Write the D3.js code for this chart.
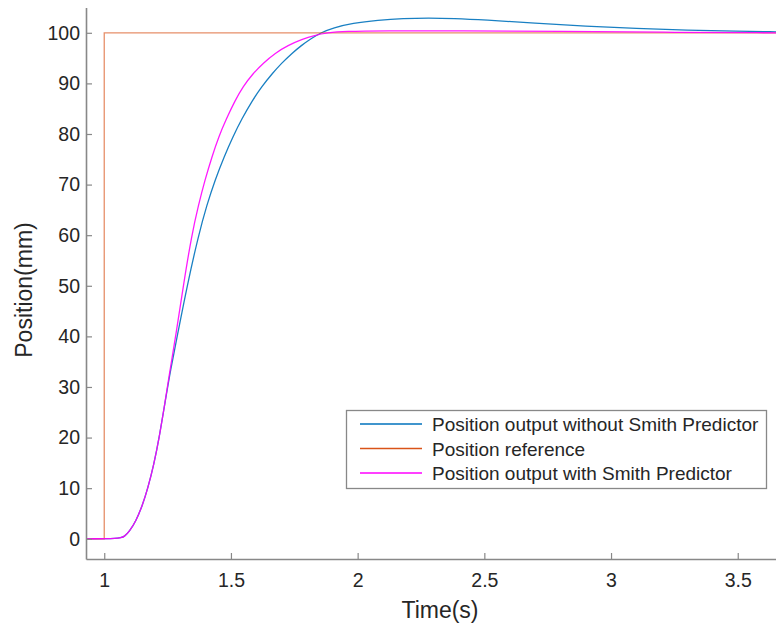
<!DOCTYPE html>
<html>
<head>
<meta charset="utf-8">
<script src="https://cdn.jsdelivr.net/npm/d3@7/dist/d3.min.js"></script>
<style>
  body { margin: 0; background: #fff; }
  text { font-family: "Liberation Sans", Arial, sans-serif; }
</style>
</head>
<body>
<div id="chart"></div>
<script>
// Step response data
const timeNoSmith = [0.928, 1.058, 1.08, 1.1, 1.125, 1.15, 1.172, 1.195, 1.217, 1.24, 1.262, 1.288,
  1.327, 1.372, 1.405, 1.438, 1.473, 1.508, 1.543, 1.583, 1.622, 1.664, 1.70, 1.742, 1.778, 1.814, 1.854,
  1.904, 1.98, 2.08, 2.18, 2.28, 2.38, 2.5, 2.7, 2.9, 3.1, 3.3, 3.5, 3.651];
const posNoSmith = [0, 0, 0.4, 1.5, 3.5, 6.5, 10, 14.5, 20, 27, 33.5, 40,
  50, 60, 66, 71, 75.5, 79.5, 83, 86.5, 89.4, 92, 94, 96, 97.5, 98.8, 100,
  101, 101.9, 102.5, 102.85, 102.95, 102.85, 102.55, 101.9, 101.3, 100.85, 100.5, 100.3, 100.2];

const timeSmith = [0.928, 1.058, 1.08, 1.1, 1.125, 1.15, 1.172, 1.195, 1.217, 1.24, 1.26, 1.282,
  1.312, 1.345, 1.372, 1.398, 1.425, 1.452, 1.482, 1.515, 1.548, 1.588, 1.627, 1.675, 1.725, 1.78, 1.83,
  1.88, 1.95, 2.1, 2.4, 2.8, 3.2, 3.651];
const posSmith = [0, 0, 0.4, 1.5, 3.5, 6.5, 10, 14.5, 20, 27, 33.5, 40,
  50, 60, 66, 71, 75.5, 79.5, 83, 86.5, 89.4, 92, 94, 96, 97.5, 98.7, 99.5,
  100, 100.3, 100.4, 100.4, 100.3, 100.1, 100];

const timeRef = [0.928, 1, 1, 3.651];
const posRef = [0, 0, 100, 100];

const xTicks = [1, 1.5, 2, 2.5, 3, 3.5];
const yTicks = [0, 10, 20, 30, 40, 50, 60, 70, 80, 90, 100];

const seriesNames = [
  'Position output without Smith Predictor',
  'Position reference',
  'Position output with Smith Predictor'
];
const seriesColors = ['#0072BD', '#D95319', '#FF00FF'];

const W = 776, H = 626;
const plot = { left: 86, right: 776, top: 7.5, bottom: 559 };

const svg = d3.select('#chart').append('svg')
  .attr('width', W).attr('height', H);

const x = d3.scaleLinear().domain([0.928, 3.651]).range([plot.left, plot.right]);
const y = d3.scaleLinear().domain([-4, 105]).range([plot.bottom, plot.top]);

svg.append('clipPath').attr('id', 'clip')
  .append('rect')
  .attr('x', plot.left).attr('y', plot.top)
  .attr('width', plot.right - plot.left).attr('height', plot.bottom - plot.top);

// Lines
const series = [
  { t: timeNoSmith, v: posNoSmith },
  { t: timeRef, v: posRef },
  { t: timeSmith, v: posSmith }
];

// basis spline smooths out the small reading errors in the points
const smooth = d3.line().x(d => x(d[0])).y(d => y(d[1])).curve(d3.curveBasis);
const straight = d3.line().x(d => x(d[0])).y(d => y(d[1]));

const lines = svg.append('g').attr('clip-path', 'url(#clip)');
series.forEach((s, i) => {
  const pts = s.t.map((t, k) => [t, s.v[k]]);
  lines.append('path')
    .attr('d', i === 1 ? straight(pts) : smooth(pts))
    .attr('fill', 'none')
    .attr('stroke', seriesColors[i])
    .attr('stroke-width', 1.3)
    .attr('stroke-opacity', i === 1 ? 0.65 : 0.9);
});

// Axes (MATLAB style: ticks inside)
const axisColor = '#888';
const textColor = '#262626';

const xAxis = svg.append('g')
  .attr('transform', `translate(0,${plot.bottom})`)
  .call(d3.axisBottom(x).tickValues(xTicks).tickFormat(d3.format('')).tickSizeInner(-6).tickSizeOuter(0).tickPadding(14.5));

const yAxis = svg.append('g')
  .attr('transform', `translate(${plot.left},0)`)
  .call(d3.axisLeft(y).tickValues(yTicks).tickSizeInner(-6).tickSizeOuter(0).tickPadding(6));

[xAxis, yAxis].forEach(a => {
  a.select('.domain').attr('stroke', axisColor).attr('stroke-width', 1.6);
  a.selectAll('.tick line').attr('stroke', axisColor).attr('stroke-width', 1.2);
  a.selectAll('.tick text').attr('fill', textColor).style('font-size', '19.5px');
});

// Axis labels
svg.append('text')
  .attr('x', 440).attr('y', 618)
  .attr('text-anchor', 'middle')
  .attr('fill', textColor)
  .style('font-size', '23px')
  .text('Time(s)');

svg.append('text')
  .attr('transform', 'translate(32,290) rotate(-90)')
  .attr('text-anchor', 'middle')
  .attr('fill', textColor)
  .style('font-size', '23px')
  .text('Position(mm)');

// Legend
const legend = svg.append('g');
legend.append('rect')
  .attr('x', 346.5).attr('y', 410.5)
  .attr('width', 420).attr('height', 78)
  .attr('fill', '#fff')
  .attr('stroke', axisColor)
  .attr('stroke-width', 1.3);

seriesNames.forEach((name, i) => {
  const ly = 424 + i * 24.5;
  legend.append('line')
    .attr('x1', 360).attr('x2', 422)
    .attr('y1', ly).attr('y2', ly)
    .attr('stroke', seriesColors[i])
    .attr('stroke-width', 1.3);
  legend.append('text')
    .attr('x', 432).attr('y', ly + 7)
    .attr('fill', textColor)
    .style('font-size', '19px')
    .text(name);
});
</script>
</body>
</html>
